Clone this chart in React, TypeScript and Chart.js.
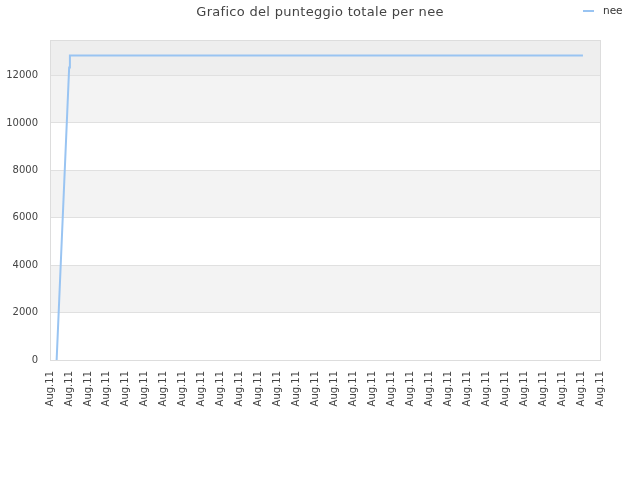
import { Chart, registerables } from 'chart.js';
import { useEffect, useRef } from 'react';

Chart.register(...registerables);

// cumulative score for "nee" (x in day-tick units along the axis)
const timePoints = [0.35, 1.01, 1.05, 28.1];
const scoreValues = [0, 12340, 12850, 12850];

const tickLabel = 'Aug.11';
const tickCount = 30;
const yTickValues = [0, 2000, 4000, 6000, 8000, 10000, 12000];
const yMax = 13500;

const chartTitle = 'Grafico del punteggio totale per nee';
const seriesName = 'nee';
const lineColor = '#99c4f2';

const bandsAndFrame = {
   id: 'bandsAndFrame',
   beforeDraw(chart: Chart) {
      const { ctx, chartArea } = chart;
      const y = chart.scales.y;
      const edges = [...yTickValues, yMax];
      ctx.save();
      for (let i = 0; i < edges.length - 1; i++) {
         const top = y.getPixelForValue(edges[i + 1]);
         const bottom = y.getPixelForValue(edges[i]);
         if (i === edges.length - 2) ctx.fillStyle = '#eeeeee';
         else ctx.fillStyle = i % 2 === 1 ? '#f3f3f3' : '#ffffff';
         ctx.fillRect(chartArea.left, top, chartArea.right - chartArea.left, bottom - top);
      }
      ctx.restore();
   },
   afterDraw(chart: Chart) {
      const { ctx, chartArea, width } = chart;
      ctx.save();
      ctx.strokeStyle = '#dddddd';
      ctx.lineWidth = 1;
      ctx.strokeRect(
         Math.round(chartArea.left) + 0.5,
         Math.round(chartArea.top) + 0.5,
         Math.round(chartArea.right - chartArea.left),
         Math.round(chartArea.bottom - chartArea.top)
      );

      // title (spaced out a little, no ligatures)
      ctx.fillStyle = '#444444';
      ctx.font = '13px "DejaVu Sans", sans-serif';
      (ctx as any).letterSpacing = '0.3px';
      ctx.textAlign = 'center';
      ctx.textBaseline = 'middle';
      ctx.fillText(chartTitle, width / 2, 13);
      (ctx as any).letterSpacing = '0px';

      // legend
      ctx.strokeStyle = lineColor;
      ctx.lineWidth = 2;
      ctx.beginPath();
      ctx.moveTo(583, 11);
      ctx.lineTo(594, 11);
      ctx.stroke();
      ctx.fillStyle = '#333333';
      ctx.font = '10.5px "DejaVu Sans", sans-serif';
      ctx.textAlign = 'left';
      ctx.fillText(seriesName, 603, 11);
      ctx.restore();
   },
};

function ScoreChart() {
   const chartRef = useRef<HTMLCanvasElement>(null);
   const chartInstance = useRef<Chart | null>(null);

   useEffect(() => {
      if (!chartRef.current) return;
      if (chartInstance.current) chartInstance.current.destroy();

      const ctx = chartRef.current.getContext('2d');
      if (!ctx) return;

      chartInstance.current = new Chart(ctx, {
         type: 'line',
         data: {
            datasets: [
               {
                  label: seriesName,
                  data: timePoints.map((x, i) => ({ x, y: scoreValues[i] })),
                  borderColor: lineColor,
                  borderWidth: 2,
                  pointRadius: 0,
                  tension: 0,
                  fill: false,
               },
            ],
         },
         options: {
            responsive: false,
            animation: false,
            layout: { padding: { top: 40, right: 40, left: 0, bottom: 0 } },
            scales: {
               x: {
                  type: 'linear',
                  min: 0,
                  max: tickCount - 1,
                  afterFit: (scale) => {
                     scale.height = 120;
                  },
                  ticks: {
                     stepSize: 1,
                     autoSkip: false,
                     maxRotation: 90,
                     minRotation: 90,
                     padding: 11,
                     color: '#444444',
                     font: { family: '"DejaVu Sans", sans-serif', size: 10 },
                     callback: () => tickLabel,
                  },
                  grid: { display: false, drawTicks: false },
                  border: { display: false },
               },
               y: {
                  type: 'linear',
                  min: 0,
                  max: yMax,
                  afterFit: (scale) => {
                     scale.width = 50;
                  },
                  afterBuildTicks: (scale) => {
                     scale.ticks = yTickValues.map((value) => ({ value }));
                  },
                  ticks: {
                     autoSkip: false,
                     padding: 12,
                     color: '#444444',
                     font: { family: '"DejaVu Sans", sans-serif', size: 10 },
                     callback: (value) => String(value),
                  },
                  grid: { color: '#e0e0e0', drawTicks: false },
                  border: { display: false },
               },
            },
            plugins: {
               legend: { display: false },
               title: { display: false },
               tooltip: { enabled: false },
            },
         },
         plugins: [bandsAndFrame],
      });

      return () => {
         if (chartInstance.current) {
            chartInstance.current.destroy();
            chartInstance.current = null;
         }
      };
   }, []);

   return (
      <div style={{ width: 640, height: 480 }}>
         <canvas ref={chartRef} width={640} height={480} />
      </div>
   );
}

export default function App() {
   useEffect(() => {
      document.body.style.margin = '0';
   }, []);
   return <ScoreChart />;
}
